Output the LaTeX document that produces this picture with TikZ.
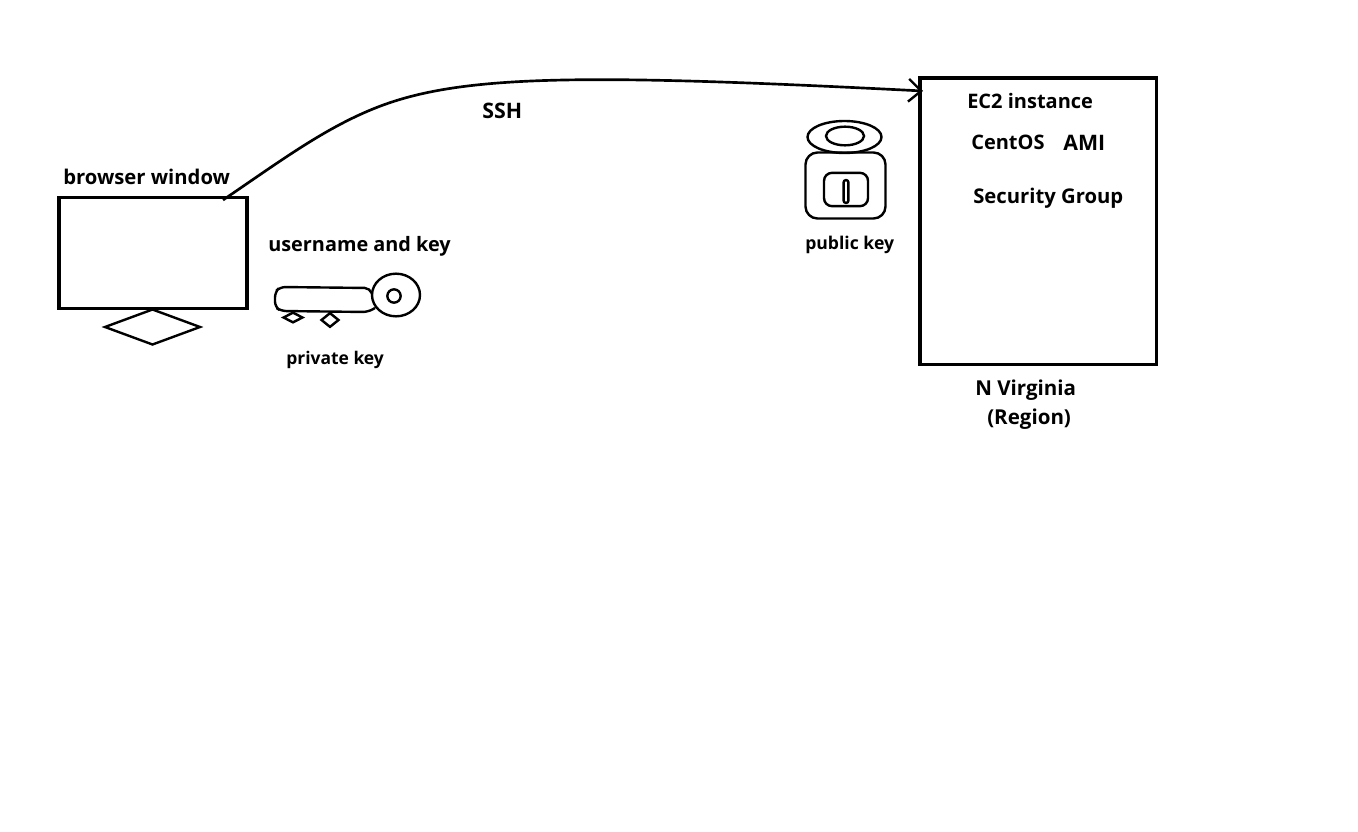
\documentclass[tikz,border=0pt]{standalone}
\usepackage{fontspec}
\setmainfont{Open Sans}
\usetikzlibrary{arrows.meta,shapes.geometric}
\tikzset{
  x=0.75pt,y=-0.75pt,
  line/.style={draw=black,line width=2.3pt},
  thin line/.style={draw=black,line width=1.8pt},
  big/.style={font=\fontsize{15pt}{18pt}\selectfont\bfseries,text=black,inner sep=0pt,anchor=base west},
  small/.style={font=\fontsize{13.2pt}{16pt}\selectfont\bfseries,text=black,inner sep=0pt,anchor=base west},
  box/.style={line,rectangle,inner sep=0pt,outer sep=0pt,anchor=north west},
}
\begin{document}
\begin{tikzpicture}
\useasboundingbox (0,0) rectangle (1358,831);
% monitor
\node[box,minimum width=141pt,minimum height=83pt] (monitor) at (59,197.5) {};
\node[thin line,diamond,aspect=2.7,inner sep=0pt,minimum width=72pt,minimum height=27pt] (stand) at (152.5,327) {};
% EC2 box
\node[box,minimum width=177.5pt,minimum height=215pt] (ec2) at (920,78) {};
\coordinate (sshstart) at (223,200);
\coordinate (sshend) at (923,91);
\draw[thin line,line width=2pt,-{Straight Barb[length=9.5pt,width=17pt,line width=1.8pt]}]
  (sshstart) .. controls (285,158) and (335,120) .. (395,101)
  .. controls (480,74) and (610,75) .. (sshend);
% private key
\draw[thin line,rounded corners=4pt] (372,294) -- (370,288) -- (280,287) -- (275,292) -- (275,307) -- (281,311) -- (368,312) -- (375,308);
\node[thin line,ellipse,inner sep=0pt,minimum width=36pt,minimum height=32pt] (keyhead) at (396,295) {};
\node[thin line,circle,inner sep=0pt,minimum size=10pt] (keyhole) at (394,296) {};
\node[thin line,diamond,aspect=1.7,inner sep=0pt,minimum width=15pt,minimum height=8pt] (tooth1) at (293,317.5) {};
\node[thin line,diamond,aspect=1,inner sep=0pt,minimum width=13.5pt,minimum height=11pt] (tooth2) at (330,320) {};
% public key lock
\node[thin line,ellipse,inner sep=0pt,minimum width=55.5pt,minimum height=24pt] (lockouter) at (844.5,137) {};
\node[thin line,ellipse,inner sep=0pt,minimum width=28.5pt,minimum height=14pt] (lockinner) at (845,136) {};
\node[thin line,rectangle,rounded corners=9pt,inner sep=0pt,minimum width=60pt,minimum height=49.5pt] (lockbody) at (845.5,185.5) {};
\node[thin line,rectangle,rounded corners=6pt,inner sep=0pt,minimum width=33pt,minimum height=25pt] (lockplate) at (846,189.5) {};
\node[thin line,rectangle,rounded corners=1.5pt,inner sep=0pt,minimum width=3.5pt,minimum height=17pt] (lockslot) at (846,191.5) {};
% labels
\node[big,font=\fontsize{15.2pt}{18pt}\selectfont\bfseries] (browser) at (63,184) {browser window};
\node[big,font=\fontsize{14.9pt}{18pt}\selectfont\bfseries] (username) at (268,251) {username and key};
\node[small,font=\fontsize{13.1pt}{16pt}\selectfont\bfseries] (private) at (286,364) {private key};
\node[big,font=\fontsize{16pt}{18pt}\selectfont\bfseries] (sshlabel) at (482,118) {SSH};
\node[small] (public) at (805,249) {public key};
\node[big] (ec2label) at (967,108.5) {EC2 instance};
\node[big] (centos) at (971,149) {CentOS};
\node[big,font=\fontsize{16pt}{18pt}\selectfont\bfseries] (ami) at (1063,151) {AMI};
\node[big,font=\fontsize{15.2pt}{18pt}\selectfont\bfseries] (sg) at (973,203) {Security Group};
\node[big,font=\fontsize{15.4pt}{18pt}\selectfont\bfseries] (nv) at (975,395) {N Virginia};
\node[big,font=\fontsize{15.4pt}{18pt}\selectfont\bfseries] (region) at (987,424) {(Region)};
\end{tikzpicture}
\end{document}
